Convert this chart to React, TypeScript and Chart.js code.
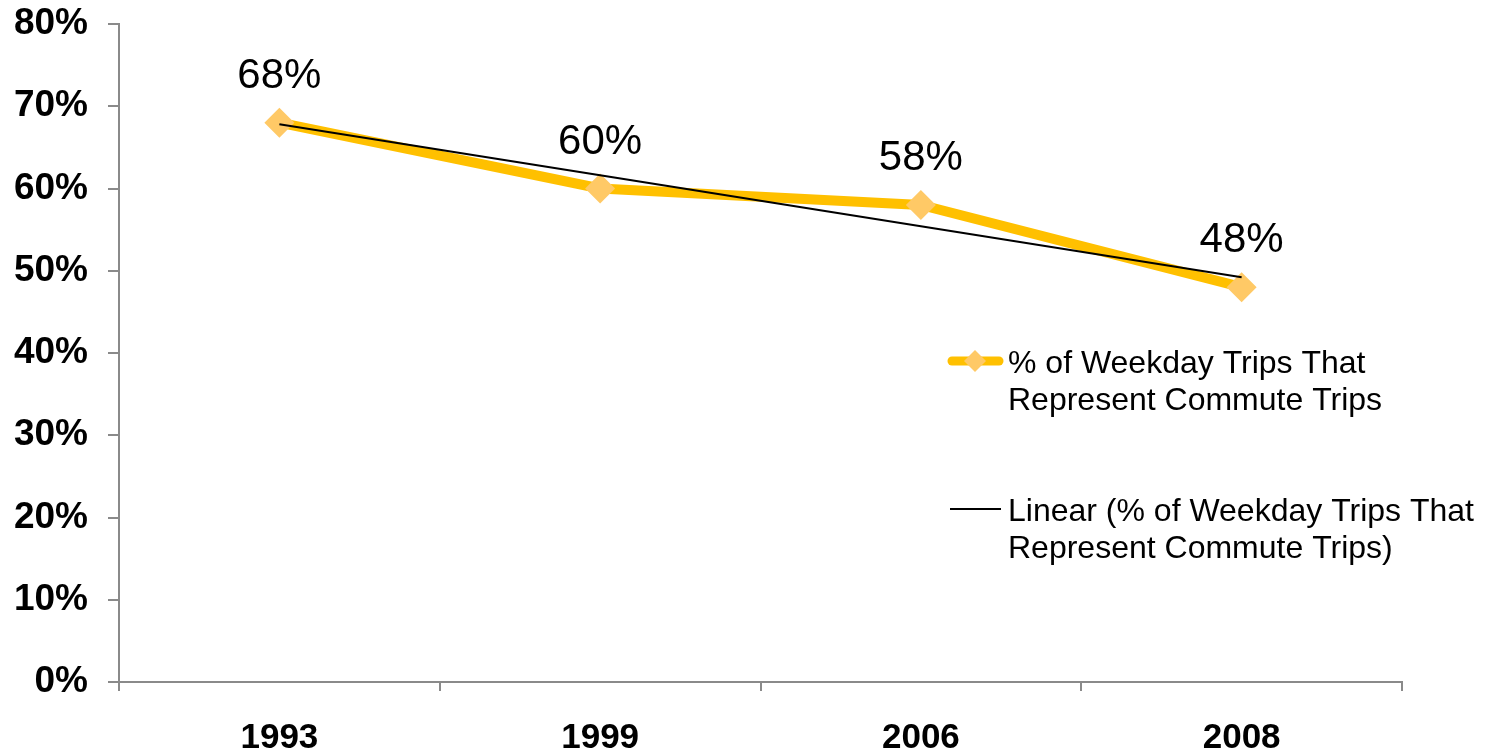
import React, { useEffect, useRef } from "react";
import { Chart, registerables } from "chart.js";

Chart.register(...registerables);

const categories = ["1993", "1999", "2006", "2008"];
const commuteShare = [68, 60, 58, 48];
const trendShare = [67.8, 61.6, 55.4, 49.2];
const yTicks = [0, 10, 20, 30, 40, 50, 60, 70, 80];
const seriesLabel = "% of Weekday Trips That Represent Commute Trips";
const trendLabel = "Linear (% of Weekday Trips That Represent Commute Trips)";

const FONT = "'Liberation Sans', Arial, Helvetica, sans-serif";
const AXIS_GRAY = "#8a8a8a";
const LINE_GOLD = "#FFC000";
const MARKER_GOLD = "#FFC966";

function wrap(ctx: CanvasRenderingContext2D, text: string, maxW: number): string[] {
  const words = text.split(" ");
  const lines: string[] = [];
  let cur = "";
  for (const w of words) {
    const t = cur ? cur + " " + w : w;
    if (ctx.measureText(t).width > maxW && cur) {
      lines.push(cur);
      cur = w;
    } else cur = t;
  }
  if (cur) lines.push(cur);
  return lines;
}

const labelPlugin = {
  id: "valueLabels",
  afterDatasetsDraw(chart: any) {
    const ctx = chart.ctx;
    const meta = chart.getDatasetMeta(1);
    const data = chart.data.datasets[1].data as number[];
    ctx.save();
    ctx.font = `42px ${FONT}`;
    ctx.fillStyle = "#000";
    ctx.textAlign = "center";
    ctx.textBaseline = "alphabetic";
    meta.data.forEach((pt: any, i: number) => {
      ctx.fillText(`${data[i]}%`, pt.x, pt.y - 35);
    });
    ctx.restore();
  },
};

const legendPlugin = {
  id: "customLegend",
  afterDraw(chart: any) {
    const ctx = chart.ctx;
    ctx.save();
    ctx.font = `32px ${FONT}`;
    ctx.fillStyle = "#000";
    ctx.textAlign = "left";
    ctx.textBaseline = "alphabetic";
    const textX = 1008;
    const lh = 37;
    // series item
    const y1 = 361;
    ctx.strokeStyle = LINE_GOLD;
    ctx.lineWidth = 9;
    ctx.lineCap = "round";
    ctx.beginPath();
    ctx.moveTo(952, y1);
    ctx.lineTo(999, y1);
    ctx.stroke();
    ctx.fillStyle = MARKER_GOLD;
    const r = 11;
    ctx.beginPath();
    ctx.moveTo(975 - r, y1);
    ctx.lineTo(975, y1 - r);
    ctx.lineTo(975 + r, y1);
    ctx.lineTo(975, y1 + r);
    ctx.closePath();
    ctx.fill();
    ctx.fillStyle = "#000";
    const l1 = wrap(ctx, chart.data.datasets[1].label, 470);
    l1.forEach((s, i) => ctx.fillText(s, textX, y1 + 12 + i * lh));
    // trend item
    const y2 = 509;
    ctx.strokeStyle = "#000";
    ctx.lineWidth = 2;
    ctx.lineCap = "butt";
    ctx.beginPath();
    ctx.moveTo(950, y2);
    ctx.lineTo(1001, y2);
    ctx.stroke();
    const l2 = wrap(ctx, chart.data.datasets[0].label, 470);
    l2.forEach((s, i) => ctx.fillText(s, textX, y2 + 12 + i * lh));
    ctx.restore();
  },
};

export default function App() {
  const ref = useRef<HTMLCanvasElement>(null);
  useEffect(() => {
    if (!ref.current) return;
    const chart = new Chart(ref.current, {
      type: "line",
      data: {
        labels: categories,
        datasets: [
          {
            label: trendLabel,
            data: trendShare,
            borderColor: "#000",
            borderWidth: 2,
            pointRadius: 0,
            pointHoverRadius: 0,
            fill: false,
            tension: 0,
            order: 0,
          },
          {
            label: seriesLabel,
            data: commuteShare,
            borderColor: LINE_GOLD,
            borderWidth: 10,
            pointStyle: "rectRot",
            pointRadius: 15,
            pointBackgroundColor: MARKER_GOLD,
            pointBorderColor: MARKER_GOLD,
            pointBorderWidth: 0,
            fill: false,
            tension: 0,
            order: 1,
          },
        ],
      },
      options: {
        animation: false,
        responsive: true,
        maintainAspectRatio: false,
        layout: { padding: { top: 24, right: 91, left: 0, bottom: 0 } },
        plugins: {
          legend: { display: false },
          tooltip: { enabled: false },
        },
        scales: {
          x: {
            type: "category",
            offset: true,
            grid: {
              offset: true,
              display: true,
              drawOnChartArea: false,
              drawTicks: true,
              tickLength: 9,
              color: AXIS_GRAY,
              lineWidth: 2,
            },
            border: { display: true, color: AXIS_GRAY, width: 2 },
            ticks: {
              color: "#000",
              font: { family: FONT, size: 35, weight: "bold" },
              padding: 26,
              maxRotation: 0,
              autoSkip: false,
            },
            afterFit: (scale: any) => {
              scale.height = 71;
              scale.paddingLeft = 0;
              scale.paddingRight = 0;
            },
          },
          y: {
            min: 0,
            max: 80,
            afterBuildTicks: (scale: any) => {
              scale.ticks = yTicks.map((v) => ({ value: v }));
            },
            grid: {
              display: true,
              drawOnChartArea: false,
              drawTicks: true,
              tickLength: 11,
              color: AXIS_GRAY,
              lineWidth: 2,
            },
            border: { display: true, color: AXIS_GRAY, width: 2 },
            ticks: {
              color: "#000",
              font: { family: FONT, size: 37, weight: "bold" },
              padding: 20,
              callback: (v: any) => `${v}%`,
            },
            afterFit: (scale: any) => {
              scale.width = 119;
              scale.paddingTop = 0;
              scale.paddingBottom = 0;
            },
          },
        },
      },
      plugins: [labelPlugin, legendPlugin],
    });
    return () => chart.destroy();
  }, []);
  return (
    <div style={{ position: "absolute", left: 0, top: 0, width: 1493, height: 753, background: "#fff" }}>
      <canvas ref={ref} />
    </div>
  );
}
